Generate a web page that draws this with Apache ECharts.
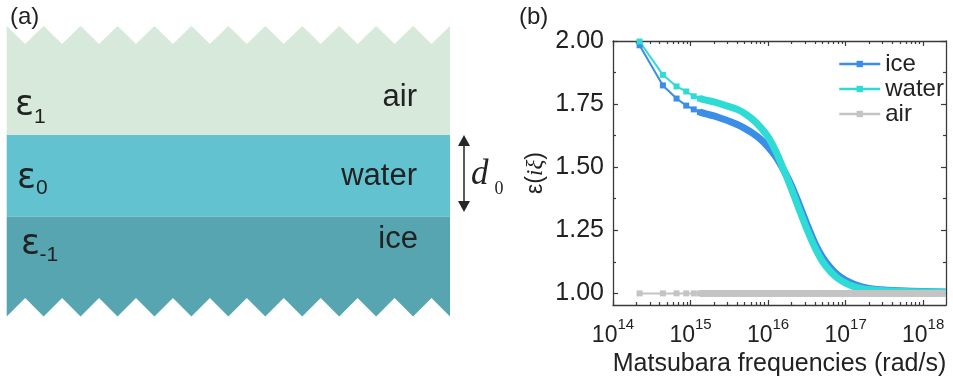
<!DOCTYPE html>
<html><head><meta charset="utf-8">
<script src="https://cdn.jsdelivr.net/npm/echarts@6/dist/echarts.min.js"></script>
<style>html,body{margin:0;padding:0;background:#fff}#c{width:953px;height:377px}</style>
</head><body><div id="c"></div>
<script>
// ---------- data ----------
const seriesNames = ['ice', 'water', 'air'];
const sparseFreq = [2.2e14, 4.4e14, 6.6e14, 8.8e14, 1.1e15, 1.32e15];
const iceSparse   = [1.983, 1.824, 1.772, 1.744, 1.729, 1.718];
const waterSparse = [1.998, 1.866, 1.820, 1.800, 1.781, 1.772];
const airSparse   = [1.0, 1.0, 1.0, 1.0, 1.0, 1.0];

const denseFreq = [1.32e15, 1.58e15, 2e15, 2.5e15, 3.16e15, 4e15, 5e15, 6.3e15, 7.9e15,
  1e16, 1.26e16, 1.58e16, 2e16, 2.5e16, 3.16e16, 4e16, 5e16, 6.3e16, 7.9e16,
  1e17, 1.26e17, 1.58e17, 2e17, 3.16e17, 5e17, 1e18, 1.95e18];
const waterDense = [1.772, 1.766, 1.759, 1.750, 1.740, 1.729, 1.713, 1.690, 1.660,
  1.620, 1.563, 1.492, 1.414, 1.335, 1.255, 1.183, 1.128, 1.088, 1.060,
  1.041, 1.028, 1.020, 1.015, 1.010, 1.008, 1.006, 1.005];
const iceDense = [1.718, 1.711, 1.703, 1.693, 1.682, 1.669, 1.654, 1.635, 1.612,
  1.580, 1.541, 1.490, 1.428, 1.355, 1.275, 1.200, 1.145, 1.104, 1.073,
  1.052, 1.037, 1.027, 1.020, 1.013, 1.010, 1.007, 1.006];
const airDenseFreq = [1.32e15, 1e16, 1e17, 1e18, 1.95e18];
const airDense     = [1.0, 1.0, 1.0, 1.0, 1.0];

const yTicks = [1.00, 1.25, 1.50, 1.75, 2.00];
const yMinorTicks = [1.125, 1.375, 1.625, 1.875];
const xTicks = [1e14, 1e15, 1e16, 1e17, 1e18];
const layerLabels = ['air', 'water', 'ice'];
const epsSubs = ['1', '0', '-1'];

// ---------- styles ----------
const colors = { ice: '#3a8ee8', water: '#2fdbd5', air: '#c4c4c4' };
const FONT = '"Liberation Sans", Arial, sans-serif';
const AX = '#3a3a3a';
const X_MIN = 1e14, X_MAX = 1.97e18, Y_MIN = 0.954, Y_MAX = 2.0;

const xMinor = [];
xTicks.forEach(d => { for (let k = 2; k <= 9; k++) { const v = d * k; if (v < X_MAX) xMinor.push(v); } });

const zip = (a, b) => a.map((v, i) => [v, b[i]]);

function xAxisDef(pos, ticks, len, showLine, labels) {
  const ax = {
    type: 'log', logBase: 10, min: X_MIN, max: X_MAX, position: pos, gridIndex: 0,
    axisLine: { show: showLine, onZero: false, lineStyle: { color: AX, width: 1.3 } },
    axisTick: { show: true, inside: true, length: len, customValues: ticks, lineStyle: { color: AX, width: 1.2 } },
    splitLine: { show: false }, minorTick: { show: false }, minorSplitLine: { show: false },
    axisLabel: { show: false }
  };
  if (labels) {
    ax.axisLabel = {
      show: true, customValues: xTicks, margin: 12,
      formatter: v => '{b|10}{s|' + Math.round(Math.log10(v)) + '}',
      rich: {
        b: { fontSize: 23, fontFamily: FONT, color: '#222', verticalAlign: 'bottom', lineHeight: 30 },
        s: { fontSize: 15, fontFamily: FONT, color: '#222', verticalAlign: 'top', lineHeight: 16 }
      }
    };
    ax.name = 'Matsubara frequencies (rad/s)';
    ax.nameLocation = 'middle';
    ax.nameGap = 40;
    ax.nameTextStyle = { fontSize: 25, fontFamily: FONT, color: '#222' };
  }
  return ax;
}
function yAxisDef(pos, ticks, len, showLine, labels) {
  const ax = {
    type: 'value', min: Y_MIN, max: Y_MAX, position: pos, gridIndex: 0,
    axisLine: { show: showLine, onZero: false, lineStyle: { color: AX, width: 1.3 } },
    axisTick: { show: true, inside: true, length: len, customValues: ticks, lineStyle: { color: AX, width: 1.2 } },
    splitLine: { show: false },
    axisLabel: { show: false }
  };
  if (labels) {
    ax.axisLabel = { show: true, customValues: yTicks, margin: 9, fontSize: 25, fontFamily: FONT, color: '#222',
      formatter: v => v.toFixed(2) };
    ax.name = '{n|ε(}{i|iξ}{n|)}';
    ax.nameLocation = 'middle';
    ax.nameGap = 66;
    ax.nameTextStyle = { rich: {
      n: { fontSize: 23, fontFamily: FONT, color: '#222' },
      i: { fontSize: 23, fontFamily: '"Liberation Serif", serif', fontStyle: 'italic', color: '#222' }
    } };
  }
  return ax;
}

function sparseSeries(name, vals) {
  return { type: 'line', name, data: zip(sparseFreq, vals), xAxisIndex: 0, yAxisIndex: 0,
    symbol: 'rect', symbolSize: 6, showSymbol: true, z: 3,
    lineStyle: { width: 2, color: colors[name] }, itemStyle: { color: colors[name] },
    emphasis: { disabled: true } };
}
function denseSeries(name, freq, vals) {
  return { type: 'line', name, data: zip(freq, vals), xAxisIndex: 0, yAxisIndex: 0,
    symbol: 'none', z: 3, smooth: 0.25,
    lineStyle: { width: 7, color: colors[name], join: 'round', cap: 'butt' },
    itemStyle: { color: colors[name] }, emphasis: { disabled: true } };
}

// ---------- panel (a) schematic ----------
const PA = { x0: 6.7, x1: 450, topPeak: 26, topValley: 44, airBot: 135, waterBot: 216.7, botLow: 316.5, botHigh: 298, teeth: 12 };
const layerColors = { air: '#d6e9da', water: '#63c2cf', ice: '#57a5b0' };
function zig(yEven, yOdd, reverse) {
  const pts = [];
  const n = PA.teeth * 2;
  for (let k = 0; k <= n; k++) {
    const x = PA.x0 + k * (PA.x1 - PA.x0) / n;
    pts.push([x, k % 2 === 0 ? yEven : yOdd]);
  }
  return reverse ? pts.reverse() : pts;
}
const airPoly = zig(PA.topPeak, PA.topValley, false).concat([[PA.x1, PA.airBot], [PA.x0, PA.airBot]]);
const icePoly = [[PA.x0, PA.waterBot], [PA.x1, PA.waterBot]].concat(zig(PA.botLow, PA.botHigh, true));

const EPS_FONT = '"DejaVu Sans", sans-serif';
const SERIF = '"Liberation Serif", serif';
function txt(x, y, text, size, align, family, style) {
  return { type: 'text', x, y, silent: true, style: { text, fontSize: size, fontFamily: family || FONT,
    fontStyle: style || 'normal', fill: '#222', align: align || 'left', verticalAlign: 'middle' } };
}
const graphics = [
  { type: 'polygon', shape: { points: airPoly }, style: { fill: layerColors.air }, silent: true },
  { type: 'rect', shape: { x: PA.x0, y: PA.airBot, width: PA.x1 - PA.x0, height: PA.waterBot - PA.airBot }, style: { fill: layerColors.water }, silent: true },
  { type: 'polygon', shape: { points: icePoly }, style: { fill: layerColors.ice }, silent: true },
  txt(417, 97.5, layerLabels[0], 31, 'right'),
  txt(417, 176, layerLabels[1], 31, 'right'),
  txt(418, 239.5, layerLabels[2], 31, 'right'),
  txt(15, 105.5, 'ε', 35, 'left', EPS_FONT), txt(34, 117.7, epsSubs[0], 21),
  txt(17, 178.5, 'ε', 35, 'left', EPS_FONT), txt(36, 188.2, epsSubs[1], 21),
  txt(21, 245, 'ε', 35, 'left', EPS_FONT), txt(39.5, 255.7, epsSubs[2], 21),
  { type: 'line', shape: { x1: 464, y1: 144, x2: 464, y2: 203 }, style: { stroke: '#262626', lineWidth: 1.5 }, silent: true },
  { type: 'polygon', shape: { points: [[464, 135], [458, 146], [470, 146]] }, style: { fill: '#262626' }, silent: true },
  { type: 'polygon', shape: { points: [[464, 212], [458, 201], [470, 201]] }, style: { fill: '#262626' }, silent: true },
  txt(471, 175, 'd', 35, 'left', SERIF, 'italic'),
  txt(494.5, 189, '0', 18, 'left', SERIF),
  txt(10, 17, '(a)', 24),
  txt(519, 17, '(b)', 24)
];

const chart = echarts.init(document.getElementById('c'), null, { renderer: 'canvas' });
chart.setOption({
  animation: false,
  backgroundColor: '#fff',
  grid: { left: 613, top: 41, width: 333, height: 264, containLabel: false, outerBoundsMode: 'none' },
  legend: { data: seriesNames, orient: 'vertical', left: 838, top: 52, padding: 0,
    itemWidth: 41, itemHeight: 8, itemGap: 1, selectedMode: false,
    lineStyle: { width: 2.5 },
    textStyle: { fontSize: 24, fontFamily: FONT, color: '#222' } },
  xAxis: [
    xAxisDef('bottom', xTicks, 5, true, true),
    xAxisDef('bottom', xMinor, 3, false, false),
    xAxisDef('top', xTicks, 5, true, false),
    xAxisDef('top', xMinor, 3, false, false)
  ],
  yAxis: [
    yAxisDef('left', yTicks, 5, true, true),
    yAxisDef('left', yMinorTicks, 3, false, false),
    yAxisDef('right', yTicks, 5, true, false),
    yAxisDef('right', yMinorTicks, 3, false, false)
  ],
  series: [
    sparseSeries('ice', iceSparse),
    sparseSeries('water', waterSparse),
    sparseSeries('air', airSparse),
    denseSeries('ice', denseFreq, iceDense),
    denseSeries('water', denseFreq, waterDense),
    denseSeries('air', airDenseFreq, airDense)
  ],
  graphic: graphics
});
</script></body></html>
